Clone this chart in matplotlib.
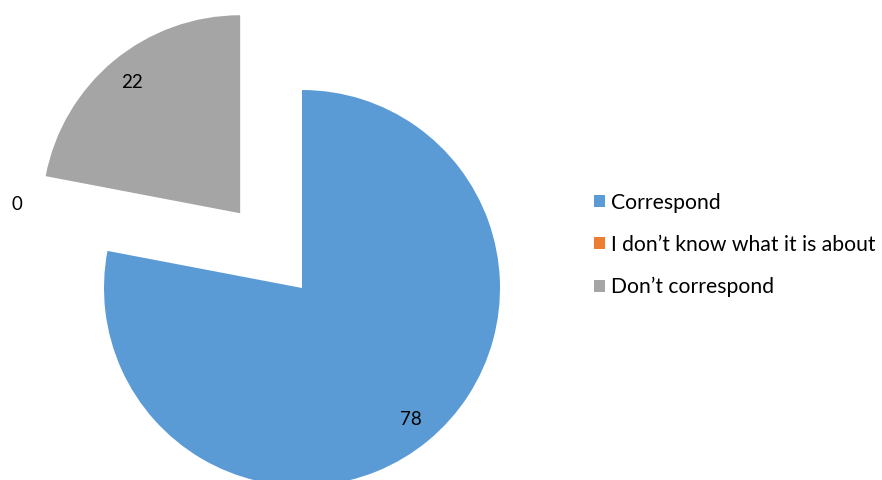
import matplotlib
matplotlib.use("Agg")
import matplotlib.pyplot as plt
from matplotlib.patches import Patch
import numpy as np

categories = ["Correspond", "I don\u2019t know what it is about", "Don\u2019t correspond"]
values = [78, 0, 22]
colors = ["#5B9BD5", "#ED7D31", "#A5A5A5"]
explode = [0.0, 0.49, 0.49]

plt.rcParams['font.family'] = ['Lato', 'DejaVu Sans']

W, H = 882, 480
fig = plt.figure(figsize=(W / 100, H / 100), dpi=100)
ax = fig.add_axes([0, 0, 1, 1])
cx, cy, R = 302, 288, 198

wedges, texts = ax.pie(values, colors=colors, explode=explode, startangle=90,
                       counterclock=False, radius=1.0, labels=[str(v) for v in values],
                       labeldistance=0.86, frame=True,
                       wedgeprops=dict(linewidth=0),
                       textprops=dict(fontsize=13.5, color='black', ha='center', va='center'))
ax.set_xlim((0 - cx) / R, (W - cx) / R)
ax.set_ylim((cy - H) / R, (cy - 0) / R)
ax.set_aspect('auto')
ax.axis('off')

# zero-value label placed outside
texts[1].set_position(((17 - cx) / R, (cy - 205) / R))

handles = [Patch(facecolor=c, edgecolor='none') for c in colors]
fig.legend(handles, categories, loc='center left', bbox_to_anchor=(594 / W, 1 - 245 / H),
           frameon=False, fontsize=15.2, handlelength=0.52, handleheight=0.52,
           handletextpad=0.3, labelspacing=1.05, borderpad=0, borderaxespad=0)

fig.savefig("out.png", dpi=100)
